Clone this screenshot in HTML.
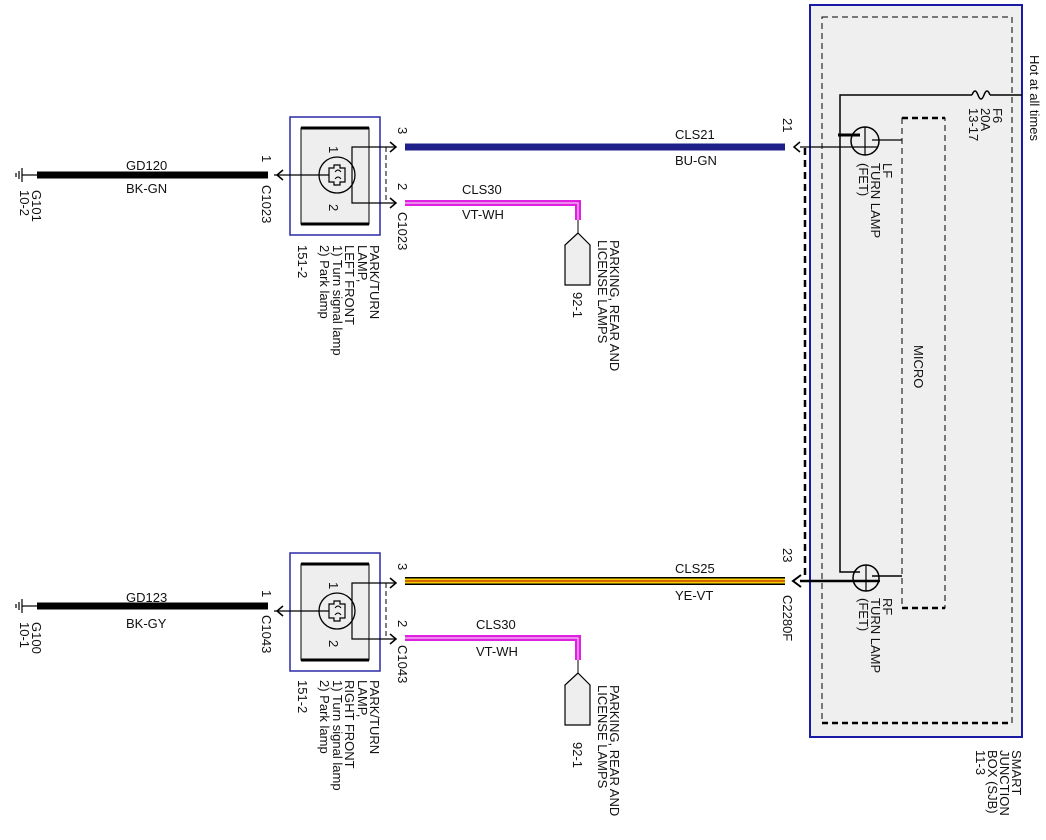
<!DOCTYPE html>
<html><head><meta charset="utf-8"><style>
html,body{margin:0;padding:0;background:#fff;}
svg{display:block;}
text{font-family:"Liberation Sans",sans-serif;font-size:13px;fill:#111;}
</style></head><body>
<svg width="1046" height="840" viewBox="0 0 1046 840" xmlns="http://www.w3.org/2000/svg">
<defs>
<g id="lamp">
 <rect x="-36" y="-47" width="90" height="118" fill="#fff" stroke="#2a2aa8" stroke-width="1.5"/>
 <rect x="-25" y="-36" width="68" height="96" fill="#eee" stroke="#000" stroke-width="1"/>
 <line x1="-25" y1="-36" x2="43" y2="-36" stroke="#000" stroke-width="3"/>
 <line x1="-25" y1="60" x2="43" y2="60" stroke="#000" stroke-width="3"/>
 <circle cx="11" cy="11" r="18" fill="none" stroke="#000" stroke-width="1.3"/>
 <path d="M3 4 h5 v-3 h6 v3 h5 v14 h-5 v3 h-6 v-3 h-5 z" fill="none" stroke="#000" stroke-width="1.2"/>
 <path d="M9 8 q3 -4 6 0 M9 15 q3 -4 6 0" fill="none" stroke="#000" stroke-width="1"/>
 <line x1="-52" y1="11" x2="3" y2="11" stroke="#000" stroke-width="1.2"/>
 <polyline points="69,-17 26,-17 26,39 69,39" fill="none" stroke="#000" stroke-width="1.2"/>
 <line x1="60" y1="-17" x2="60" y2="39" stroke="#000" stroke-width="1" stroke-dasharray="5,3"/>
 <path d="M64 -22 L70 -17 L64 -12 M64 34 L70 39 L64 44" fill="none" stroke="#000" stroke-width="1.5"/>
 <path d="M-43 6 L-49 11 L-43 16" fill="none" stroke="#000" stroke-width="1.5"/>
 <text x="3" y="-18" transform="rotate(90 3 -18)" font-size="12">1</text>
 <text x="3" y="40" transform="rotate(90 3 40)" font-size="12">2</text>
</g>
<g id="gnd">
 <line x1="22" y1="0" x2="37" y2="0" stroke="#000" stroke-width="1.2"/>
 <line x1="22" y1="-7" x2="22" y2="7" stroke="#000" stroke-width="1.2"/>
 <line x1="19" y1="-4" x2="19" y2="4" stroke="#000" stroke-width="1.2"/>
 <line x1="16" y1="-2" x2="16" y2="2" stroke="#000" stroke-width="1.2"/>
 <line x1="37" y1="0" x2="268" y2="0" stroke="#000" stroke-width="7"/>
</g>
<g id="plug">
 <path d="M0 0 v13" stroke="#000" stroke-width="1"/>
 <path d="M0 13 L12 25 V65 H-13 V25 Z" fill="#eee" stroke="#000" stroke-width="1.2"/>
</g>
</defs>

<!-- SJB -->
<rect x="810" y="5" width="212" height="732" fill="#efefef" stroke="#1a1aa8" stroke-width="2"/>
<rect x="822" y="17" width="190" height="706" fill="none" stroke="#000" stroke-width="1" stroke-dasharray="6,4"/>
<line x1="822" y1="723" x2="1012" y2="723" stroke="#000" stroke-width="2.5" stroke-dasharray="6,4"/>
<rect x="902" y="118" width="43" height="490" fill="none" stroke="#000" stroke-width="1" stroke-dasharray="6,4"/>
<line x1="902" y1="118" x2="945" y2="118" stroke="#000" stroke-width="2.5" stroke-dasharray="6,4"/>
<line x1="902" y1="608" x2="945" y2="608" stroke="#000" stroke-width="2.5" stroke-dasharray="6,4"/>
<line x1="805" y1="148" x2="805" y2="578" stroke="#000" stroke-width="2.5" stroke-dasharray="7,5"/>
<!-- fuse line -->
<polyline points="1022,95 990,95" fill="none" stroke="#000" stroke-width="1.5"/>
<path d="M990 95 q-3 -8 -6 0 q-3 8 -6 0 q-3 -8 -6 0" fill="none" stroke="#000" stroke-width="1.5"/>
<polyline points="972,95 840,95 840,572 860,572" fill="none" stroke="#000" stroke-width="1.5"/>
<line x1="838" y1="135" x2="860" y2="135" stroke="#000" stroke-width="3"/>
<!-- LF lamp -->
<circle cx="865" cy="141" r="14" fill="none" stroke="#000" stroke-width="1.5"/>
<line x1="865" y1="127" x2="865" y2="155" stroke="#000" stroke-width="1.2"/>
<line x1="872" y1="140" x2="902" y2="140" stroke="#000" stroke-width="1.2"/>
<line x1="800" y1="147" x2="878" y2="147" stroke="#000" stroke-width="1.2"/>
<!-- RF lamp -->
<circle cx="866" cy="578" r="13" fill="none" stroke="#000" stroke-width="1.5"/>
<line x1="866" y1="565" x2="866" y2="591" stroke="#000" stroke-width="1.2"/>
<line x1="872" y1="576" x2="902" y2="576" stroke="#000" stroke-width="1.5"/>
<line x1="800" y1="581" x2="880" y2="581" stroke="#000" stroke-width="2.5"/>

<!-- top wires -->
<line x1="405" y1="147" x2="785" y2="147" stroke="#1f1f8a" stroke-width="7"/>
<path d="M800 142 L794 147 L800 152" fill="none" stroke="#000" stroke-width="1.5"/>
<polyline points="405,203 578,203 578,220" fill="none" stroke="#e020e0" stroke-width="6"/>
<polyline points="405,203 578,203 578,220" fill="none" stroke="#f4c8f4" stroke-width="1.2"/>
<use href="#plug" x="578" y="220"/>
<use href="#lamp" x="326" y="164"/>
<use href="#gnd" x="0" y="175"/>

<!-- bottom wires -->
<line x1="405" y1="581" x2="785" y2="581" stroke="#000" stroke-width="8"/>
<line x1="405" y1="581" x2="785" y2="581" stroke="#f5d000" stroke-width="5"/>
<line x1="405" y1="581" x2="785" y2="581" stroke="#d04000" stroke-width="1.5"/>
<path d="M801 575 L793 581 L801 587" fill="none" stroke="#000" stroke-width="2"/>
<polyline points="405,638 578,638 578,660" fill="none" stroke="#e020e0" stroke-width="6"/>
<polyline points="405,638 578,638 578,660" fill="none" stroke="#f4c8f4" stroke-width="1.2"/>
<use href="#plug" x="578" y="660"/>
<use href="#lamp" x="326" y="600"/>
<use href="#gnd" x="0" y="606"/>

<!-- horizontal labels -->
<text x="126" y="170">GD120</text><text x="126" y="193">BK-GN</text>
<text x="675" y="139">CLS21</text><text x="675" y="165">BU-GN</text>
<text x="462" y="194">CLS30</text><text x="462" y="219">VT-WH</text>
<text x="126" y="602">GD123</text><text x="126" y="628">BK-GY</text>
<text x="675" y="573">CLS25</text><text x="675" y="600">YE-VT</text>
<text x="476" y="629">CLS30</text><text x="476" y="656">VT-WH</text>

<!-- rotated labels -->
<g font-size="12.5">
<text transform="translate(32,190) rotate(90)">G101</text>
<text transform="translate(20,190) rotate(90)">10-2</text>
<text transform="translate(262,155) rotate(90)">1</text>
<text transform="translate(262,185) rotate(90)">C1023</text>
<text transform="translate(398,127) rotate(90)">3</text>
<text transform="translate(398,183) rotate(90)">2</text>
<text transform="translate(398,212) rotate(90)">C1023</text>
<text transform="translate(370,245) rotate(90)">PARK/TURN</text>
<text transform="translate(358,245) rotate(90)">LAMP,</text>
<text transform="translate(345,245) rotate(90)">LEFT FRONT</text>
<text transform="translate(333,245) rotate(90)">1) Turn signal lamp</text>
<text transform="translate(320,245) rotate(90)">2) Park lamp</text>
<text transform="translate(298,245) rotate(90)">151-2</text>
<text transform="translate(610,240) rotate(90)">PARKING, REAR AND</text>
<text transform="translate(598,240) rotate(90)">LICENSE LAMPS</text>
<text transform="translate(573,292) rotate(90)">92-1</text>

<text transform="translate(32,622) rotate(90)">G100</text>
<text transform="translate(20,622) rotate(90)">10-1</text>
<text transform="translate(262,590) rotate(90)">1</text>
<text transform="translate(262,615) rotate(90)">C1043</text>
<text transform="translate(398,563) rotate(90)">3</text>
<text transform="translate(398,620) rotate(90)">2</text>
<text transform="translate(398,645) rotate(90)">C1043</text>
<text transform="translate(370,680) rotate(90)">PARK/TURN</text>
<text transform="translate(358,680) rotate(90)">LAMP,</text>
<text transform="translate(345,680) rotate(90)">RIGHT FRONT</text>
<text transform="translate(333,680) rotate(90)">1) Turn signal lamp</text>
<text transform="translate(320,680) rotate(90)">2) Park lamp</text>
<text transform="translate(298,680) rotate(90)">151-2</text>
<text transform="translate(610,685) rotate(90)">PARKING, REAR AND</text>
<text transform="translate(598,685) rotate(90)">LICENSE LAMPS</text>
<text transform="translate(573,742) rotate(90)">92-1</text>

<text transform="translate(783,118) rotate(90)">21</text>
<text transform="translate(783,548) rotate(90)">23</text>
<text transform="translate(783,595) rotate(90)">C2280F</text>
<text transform="translate(883,163) rotate(90)">LF</text>
<text transform="translate(871,163) rotate(90)">TURN LAMP</text>
<text transform="translate(859,163) rotate(90)">(FET)</text>
<text transform="translate(883,598) rotate(90)">RF</text>
<text transform="translate(871,598) rotate(90)">TURN LAMP</text>
<text transform="translate(859,598) rotate(90)">(FET)</text>
<text transform="translate(993,108) rotate(90)">F6</text>
<text transform="translate(981,108) rotate(90)">20A</text>
<text transform="translate(969,108) rotate(90)">13-17</text>
<text transform="translate(1030,55) rotate(90)">Hot at all times</text>
<text transform="translate(914,345) rotate(90)">MICRO</text>
<text transform="translate(1012,750) rotate(90)">SMART</text>
<text transform="translate(1000,750) rotate(90)">JUNCTION</text>
<text transform="translate(988,750) rotate(90)">BOX (SJB)</text>
<text transform="translate(976,750) rotate(90)">11-3</text>
</g>
</svg>
</body></html>
